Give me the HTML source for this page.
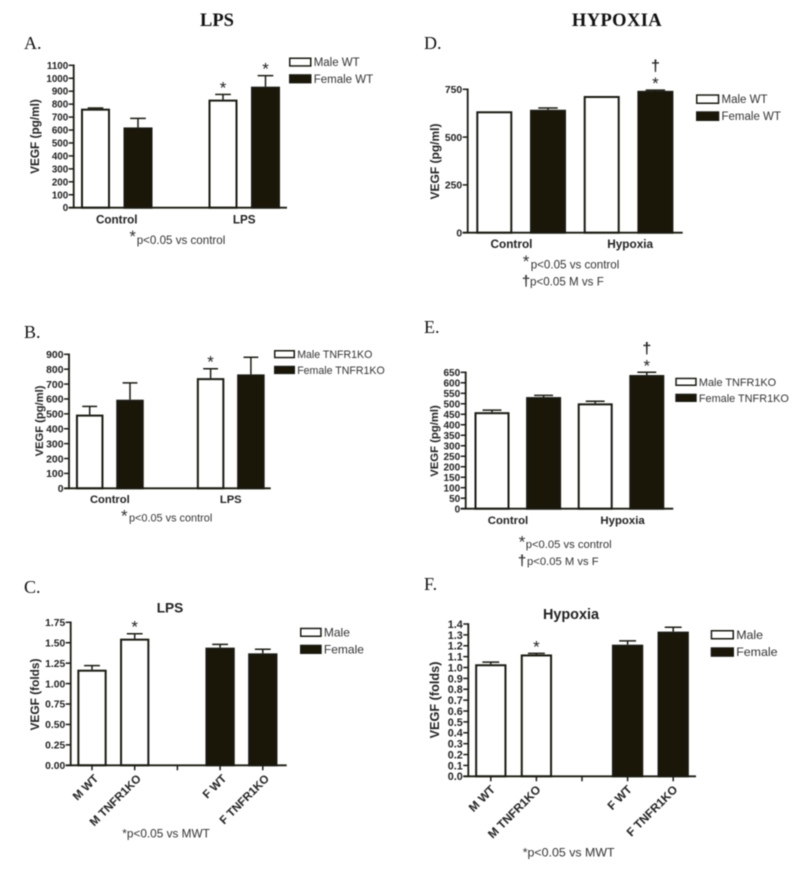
<!DOCTYPE html>
<html lang="en">
<head>
<meta charset="utf-8">
<title>VEGF production: LPS and hypoxia</title>
<style>
html,body{margin:0;padding:0;background:#fff;width:800px;height:877px;overflow:hidden}
svg{display:block;filter:blur(.45px)}
.serif{font-family:"Liberation Serif",serif;fill:#111}
.sans{font-family:"Liberation Sans",sans-serif}
.note{font-family:"Liberation Sans",sans-serif;fill:#333}
</style>
</head>
<body>
<svg id="figure" width="800" height="877" viewBox="0 0 800 877" xmlns="http://www.w3.org/2000/svg">
  <rect x="0" y="0" width="800" height="877" fill="#fff"/>
  <text class="serif" x="217" y="26" font-size="18.5" font-weight="bold" text-anchor="middle">LPS</text>
  <text class="serif" x="617" y="26" font-size="18.5" font-weight="bold" letter-spacing=".4" text-anchor="middle">HYPOXIA</text>
  <text class="serif" x="24" y="49" font-size="18">A.</text>
  <text class="serif" x="424" y="49" font-size="18">D.</text>
  <text class="serif" x="24" y="338" font-size="18">B.</text>
  <text class="serif" x="424" y="333" font-size="18">E.</text>
  <text class="serif" x="24" y="593" font-size="18">C.</text>
  <text class="serif" x="424" y="590" font-size="18">F.</text>

  <text class="sans" x="170" y="612.7" font-size="13.7" font-weight="bold" fill="#222" text-anchor="middle">LPS</text>
  <text class="sans" x="571" y="619" font-size="14.4" font-weight="bold" fill="#222" text-anchor="middle">Hypoxia</text>

  <text class="note" x="132.7" y="242" font-size="17" text-anchor="middle">*</text>
  <text class="note" x="136.7" y="244" font-size="11.6">p&lt;0.05 vs control</text>

  <text class="note" x="526" y="267" font-size="17" text-anchor="middle">*</text>
  <text class="note" x="530.7" y="268.7" font-size="11.6">p&lt;0.05 vs control</text>
  <text class="note" x="526" y="286" font-size="15" font-weight="bold" text-anchor="middle">†</text>
  <text class="note" x="530" y="285.7" font-size="11.6">p&lt;0.05 M vs F</text>

  <text class="note" x="124.3" y="521.7" font-size="17" text-anchor="middle">*</text>
  <text class="note" x="129" y="521.7" font-size="10.9">p&lt;0.05 vs control</text>

  <text class="note" x="522" y="547.3" font-size="17" text-anchor="middle">*</text>
  <text class="note" x="525.7" y="548" font-size="11.25">p&lt;0.05 vs control</text>
  <text class="note" x="522" y="565.5" font-size="15" font-weight="bold" text-anchor="middle">†</text>
  <text class="note" x="527" y="565" font-size="11.25">p&lt;0.05 M vs F</text>

  <text class="note" x="122.3" y="837.7" font-size="11.8">*p&lt;0.05 vs MWT</text>
  <text class="note" x="522.7" y="856.7" font-size="12.4">*p&lt;0.05 vs MWT</text>
</svg>
<script>
// Panel A: LPS, wild type
var aSeries = ['male', 'female', null, 'male', 'female'];
var aValues = [765, 620, null, 835, 935];
var aErrors = [5, 70, null, 40, 85];
var aStars = [0, 0, null, 1, 1];
var aTicks = [0, 100, 200, 300, 400, 500, 600, 700, 800, 900, 1000, 1100];
var aGroups = ['Control', 'LPS'];
var aLegend = ['Male WT', 'Female WT'];

// Panel B: LPS, TNFR1KO
var bSeries = ['male', 'female', null, 'male', 'female'];
var bValues = [495, 595, null, 740, 765];
var bErrors = [55, 113, null, 63, 115];
var bStars = [0, 0, null, 1, 0];
var bTicks = [0, 100, 200, 300, 400, 500, 600, 700, 800, 900];
var bGroups = ['Control', 'LPS'];
var bLegend = ['Male TNFR1KO', 'Female TNFR1KO'];

// Panel C: LPS, fold change
var cSeries = ['male', 'male', null, 'female', 'female'];
var cValues = [1.17, 1.55, null, 1.44, 1.37];
var cErrors = [0.05, 0.06, null, 0.04, 0.05];
var cStars = [0, 1, null, 0, 0];
var cTicks = ['0.00', '0.25', '0.50', '0.75', '1.00', '1.25', '1.50', '1.75'];
var cCategories = ['M WT', 'M TNFR1KO', '', 'F WT', 'F TNFR1KO'];
var cLegend = ['Male', 'Female'];

// Panel D: hypoxia, wild type
var dSeries = ['male', 'female', 'male', 'female'];
var dValues = [635, 643, 715, 742];
var dErrors = [0, 9, 0, 4];
var dStars = [0, 0, 0, 1];
var dDaggers = [0, 0, 0, 1];
var dTicks = [0, 250, 500, 750];
var dGroups = ['Control', 'Hypoxia'];
var dLegend = ['Male WT', 'Female WT'];

// Panel E: hypoxia, TNFR1KO
var eSeries = ['male', 'female', 'male', 'female'];
var eValues = [460, 532, 502, 637];
var eErrors = [10, 8, 10, 13];
var eStars = [0, 0, 0, 1];
var eDaggers = [0, 0, 0, 1];
var eTicks = [0, 50, 100, 150, 200, 250, 300, 350, 400, 450, 500, 550, 600, 650];
var eGroups = ['Control', 'Hypoxia'];
var eLegend = ['Male TNFR1KO', 'Female TNFR1KO'];

// Panel F: hypoxia, fold change
var fSeries = ['male', 'male', null, 'female', 'female'];
var fValues = [1.03, 1.12, null, 1.21, 1.33];
var fErrors = [0.02, 0.01, null, 0.035, 0.04];
var fStars = [0, 1, null, 0, 0];
var fTicks = ['0.0', '0.1', '0.2', '0.3', '0.4', '0.5', '0.6', '0.7', '0.8', '0.9', '1.0', '1.1', '1.2', '1.3', '1.4'];
var fCategories = ['M WT', 'M TNFR1KO', '', 'F WT', 'F TNFR1KO'];
var fLegend = ['Male', 'Female'];

var NS = 'http://www.w3.org/2000/svg';
var INK = '#1a1a12';
var DARK = '#1a1708';
var figure = document.getElementById('figure');

function node(tag, attrs, text) {
  var el = document.createElementNS(NS, tag);
  for (var k in attrs) { el.setAttribute(k, attrs[k]); }
  if (text !== undefined) { el.textContent = text; }
  figure.appendChild(el);
  return el;
}

function makeYScale(layout, ticks) {
  var lo = Number(ticks[0]);
  var hi = Number(ticks[ticks.length - 1]);
  return function (v) { return layout.y0 + (Number(v) - lo) / (hi - lo) * (layout.yTop - layout.y0); };
}

function makeXScale(layout) {
  return function (slot) { return layout.slot0 + slot * layout.step; };
}

function drawPanel(id, layout, series, values, errors, stars, daggers, ticks, groups, categories, legend) {
  var y = makeYScale(layout, ticks);
  var x = makeXScale(layout);
  var el;

  values.forEach(function (value, i) {
    if (value === null) { return; }
    var cx = x(i);
    var top = y(value + errors[i]);
    if (errors[i] > 0) {
      el = node('line', { x1: cx, x2: cx, y1: y(value), y2: top, stroke: INK, 'stroke-width': 1.5 });
      
      
      el = node('line', { x1: cx - layout.barW * 0.27, x2: cx + layout.barW * 0.27, y1: top, y2: top, stroke: INK, 'stroke-width': 1.5 });
      
      
    }
    el = node('rect', {
      x: cx - layout.barW / 2 + 1, y: y(value) + 1, width: layout.barW - 2, height: Math.max(0, layout.y0 - y(value) - 1),
      fill: series[i] === 'male' ? '#fff' : DARK, stroke: INK, 'stroke-width': 2
    });
    
    
    if (stars[i]) {
      el = node('text', { x: cx, y: top - 1, 'font-size': 17, 'text-anchor': 'middle', fill: '#222', 'class': 'sans' }, '*');
      
      
    }
    if (daggers && daggers[i]) {
      el = node('text', { x: cx, y: top - 19, 'font-size': 16, 'font-weight': 'bold', 'text-anchor': 'middle', fill: '#222', 'class': 'sans' }, '†');
      
      
    }
  });

  el = node('line', { x1: layout.axisX, x2: layout.axisX, y1: layout.yTop - 0.8, y2: layout.y0 + 0.8, stroke: INK, 'stroke-width': 1.8 });
  
  
  el = node('line', { x1: layout.axisX - 5, x2: layout.xEnd, y1: layout.y0, y2: layout.y0, stroke: INK, 'stroke-width': 1.8 });
  
  

  ticks.forEach(function (tick, i) {
    el = node('line', { x1: layout.axisX - 5, x2: layout.axisX, y1: y(tick), y2: y(tick), stroke: INK, 'stroke-width': 1.5 });
    
    
    el = node('text', {
      x: layout.axisX - 5.5, y: y(tick) + layout.tickFont * 0.36, 'font-size': layout.tickFont, 'font-weight': 'bold',
      'text-anchor': 'end', fill: '#222', 'class': 'sans'
    }, String(tick));
    
    
  });

  el = node('text', {
    transform: 'translate(' + (layout.titleX + 4) + ' ' + layout.titleY + ') rotate(-90)', 'font-size': layout.titleFont,
    'font-weight': 'bold', 'text-anchor': 'middle', fill: '#222', 'class': 'sans'
  }, layout.yTitle);
  
  

  if (groups) {
    groups.forEach(function (label, i) {
      el = node('text', {
        x: x(layout.groupSlots[i]), y: layout.y0 + layout.groupDrop, 'font-size': layout.groupFont, 'font-weight': 'bold',
        'text-anchor': 'middle', fill: '#222', 'class': 'sans'
      }, label);
      
      
    });
  }

  if (categories) {
    categories.forEach(function (label, i) {
      var tx = x(i);
      el = node('line', { x1: tx, x2: tx, y1: layout.y0, y2: layout.y0 + 5, stroke: INK, 'stroke-width': 1.5 });
      
      
      if (label) {
        el = node('text', {
          transform: 'translate(' + (tx + layout.labelDx) + ' ' + (layout.y0 + 14) + ') rotate(-45)', 'font-size': layout.groupFont,
          'font-weight': 'bold', 'text-anchor': 'end', fill: '#222', 'class': 'sans'
        }, label);
        
        
      }
    });
  }

  legend.forEach(function (label, i) {
    var ly = layout.legY + i * layout.legGap;
    el = node('rect', {
      x: layout.legX + 0.75, y: ly + 0.75, width: layout.legW - 1.5, height: layout.legH - 1.5,
      fill: i === 0 ? '#fff' : DARK, stroke: INK, 'stroke-width': 1.5
    });
    
    
    el = node('text', {
      x: layout.legX + layout.legW + 2.2, y: ly + layout.legH / 2 + 4, 'font-size': layout.legFont, fill: '#333', 'class': 'sans'
    }, label);
    
    
  });
}

drawPanel('a', {
  axisX: 73.7, y0: 207.7, yTop: 65.3, xEnd: 287, slot0: 95.5, step: 42.5, barW: 29, tickFont: 9.8,
  yTitle: 'VEGF (pg/ml)', titleX: 35, titleY: 136.5, titleFont: 11.8, groupSlots: [0.5, 3.5], groupDrop: 16, groupFont: 11.7,
  legX: 289, legY: 57.5, legW: 22.5, legH: 9.2, legGap: 16.7, legFont: 11.5
}, aSeries, aValues, aErrors, aStars, null, aTicks, aGroups, null, aLegend);

drawPanel('b', {
  axisX: 69, y0: 488.3, yTop: 354.3, xEnd: 270.7, slot0: 89.7, step: 40.3, barW: 27.5, tickFont: 10.4,
  yTitle: 'VEGF (pg/ml)', titleX: 39, titleY: 421, titleFont: 11.2, groupSlots: [0.5, 3.5], groupDrop: 14.5, groupFont: 11.2,
  legX: 274, legY: 350, legW: 21, legH: 8.3, legGap: 15.8, legFont: 10.6
}, bSeries, bValues, bErrors, bStars, null, bTicks, bGroups, null, bLegend);

drawPanel('c', {
  axisX: 70.7, y0: 765.3, yTop: 622.3, xEnd: 286.7, slot0: 92, step: 42.7, barW: 29.3, tickFont: 10.3,
  yTitle: 'VEGF (folds)', titleX: 35, titleY: 694.5, titleFont: 11.9, groupDrop: 16, groupFont: 11.5, labelDx: 7,
  legX: 300, legY: 627.7, legW: 21.7, legH: 9.3, legGap: 17, legFont: 12
}, cSeries, cValues, cErrors, cStars, null, cTicks, null, cCategories, cLegend);

drawPanel('d', {
  axisX: 467.7, y0: 232.7, yTop: 89.3, xEnd: 682.7, slot0: 494.3, step: 53.7, barW: 36, tickFont: 10.4,
  yTitle: 'VEGF (pg/ml)', titleX: 435, titleY: 161.5, titleFont: 12, groupSlots: [0.32, 2.53], groupDrop: 15.3, groupFont: 11.8,
  legX: 696, legY: 94.3, legW: 23.3, legH: 9.7, legGap: 17, legFont: 11.5
}, dSeries, dValues, dErrors, dStars, dDaggers, dTicks, dGroups, null, dLegend);

drawPanel('e', {
  axisX: 465.7, y0: 508.7, yTop: 372.3, xEnd: 673.3, slot0: 492, step: 51.6, barW: 35, tickFont: 10,
  yTitle: 'VEGF (pg/ml)', titleX: 434, titleY: 441, titleFont: 11.3, groupSlots: [0.31, 2.53], groupDrop: 15.3, groupFont: 11.4,
  legX: 675.3, legY: 377.7, legW: 21.4, legH: 8.3, legGap: 16, legFont: 10.9
}, eSeries, eValues, eErrors, eStars, eDaggers, eTicks, eGroups, null, eLegend);

drawPanel('f', {
  axisX: 468.3, y0: 776.3, yTop: 624, xEnd: 696, slot0: 490.8, step: 45.6, barW: 31.3, tickFont: 10.8,
  yTitle: 'VEGF (folds)', titleX: 435, titleY: 700, titleFont: 12.7, groupDrop: 16, groupFont: 11.8, labelDx: 5,
  legX: 710.7, legY: 630, legW: 23.3, legH: 9.5, legGap: 17.3, legFont: 12.4
}, fSeries, fValues, fErrors, fStars, null, fTicks, null, fCategories, fLegend);
</script>
</body>
</html>
